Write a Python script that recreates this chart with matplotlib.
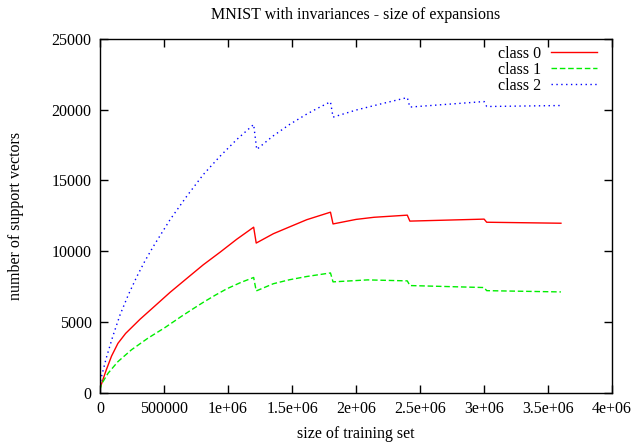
import matplotlib
matplotlib.use("Agg")
import matplotlib.pyplot as plt

# training set size (x) and number of support vectors for each class
x_class0 = [0, 25000, 50000, 90000, 140000, 200000, 245000, 312500, 430000, 547000,
            680000, 807000, 940000, 1068000, 1200000,
            1220000, 1354000, 1480000, 1615000, 1800000,
            1820000, 2000000, 2140000, 2400000,
            2420000, 3000000,
            3020000, 3600000]
y_class0 = [300, 1000, 1650, 2600, 3500, 4200, 4600, 5200, 6150, 7100,
            8100, 9050, 9950, 10850, 11700,
            10580, 11240, 11720, 12230, 12760,
            11930, 12250, 12400, 12550,
            12130, 12270,
            12050, 11980]

x_class1 = [0, 10000, 63000, 140000, 245000, 375000, 505000, 635000, 720000, 807000,
            900000, 990000, 1100000, 1200000,
            1220000, 1354000, 1480000, 1615000, 1800000,
            1820000, 2090000, 2400000,
            2420000, 3000000,
            3020000, 3600000]
y_class1 = [200, 600, 1390, 2210, 3040, 3870, 4600, 5400, 5900, 6400,
            6900, 7350, 7800, 8150,
            7200, 7710, 7990, 8220, 8470,
            7840, 7980, 7910,
            7580, 7440,
            7220, 7130]

x_class2 = [0, 10000, 50000, 100000, 156000, 220000, 287000, 350000, 417000, 547000,
            677000, 807000, 937500, 1068000, 1200000,
            1224000, 1350000, 1480000, 1610000, 1700000, 1800000,
            1820000, 2000000, 2210000, 2400000,
            2420000, 3000000,
            3020000, 3600000]
y_class2 = [500, 1100, 2500, 4000, 5500, 6900, 8200, 9300, 10350, 12230,
            13880, 15420, 16710, 17890, 18950,
            17190, 18130, 18950, 19660, 20100, 20550,
            19470, 19970, 20440, 20850,
            20180, 20570,
            20220, 20290]

x_ticks = [0, 500000, 1000000, 1500000, 2000000, 2500000, 3000000, 3500000, 4000000]
x_tick_labels = ["0", "500000", "1e+06", "1.5e+06", "2e+06", "2.5e+06", "3e+06", "3.5e+06", "4e+06"]
y_ticks = [0, 5000, 10000, 15000, 20000, 25000]

plt.rcParams['font.family'] = ['Liberation Serif', 'DejaVu Serif']
plt.rcParams['font.size'] = 11.5

fig = plt.figure(figsize=(6.37, 4.46), dpi=100)
ax = fig.add_axes([0.157, 0.119, 0.804, 0.794])

ax.plot(x_class0, y_class0, color='#ff0000', linewidth=1.0, label='class 0')
ax.plot(x_class1, y_class1, color='#00ee00', linewidth=1.0, dashes=(4, 2), label='class 1')
ax.plot(x_class2, y_class2, color='#0000ff', linewidth=1.0, dashes=(1, 2.5), label='class 2')

ax.set_xlim(0, 4000000)
ax.set_ylim(0, 25000)
ax.set_xticks(x_ticks)
ax.set_xticklabels(x_tick_labels)
ax.set_yticks(y_ticks)
ax.tick_params(direction='in', length=6, width=1, top=True, right=True, pad=6)
for s in ax.spines.values():
    s.set_linewidth(1.0)

ax.set_title('MNIST with invariances - size of expansions', fontsize=11.5, pad=14)
ax.set_xlabel('size of training set', labelpad=6)
ax.set_ylabel('number of support vectors', labelpad=20)

ax.legend(loc='upper right', bbox_to_anchor=(0.992, 1.012), frameon=False,
          markerfirst=False, handlelength=2.9, handletextpad=0.6,
          labelspacing=0.0, borderaxespad=0.3)

fig.savefig('out.png', dpi=100)
